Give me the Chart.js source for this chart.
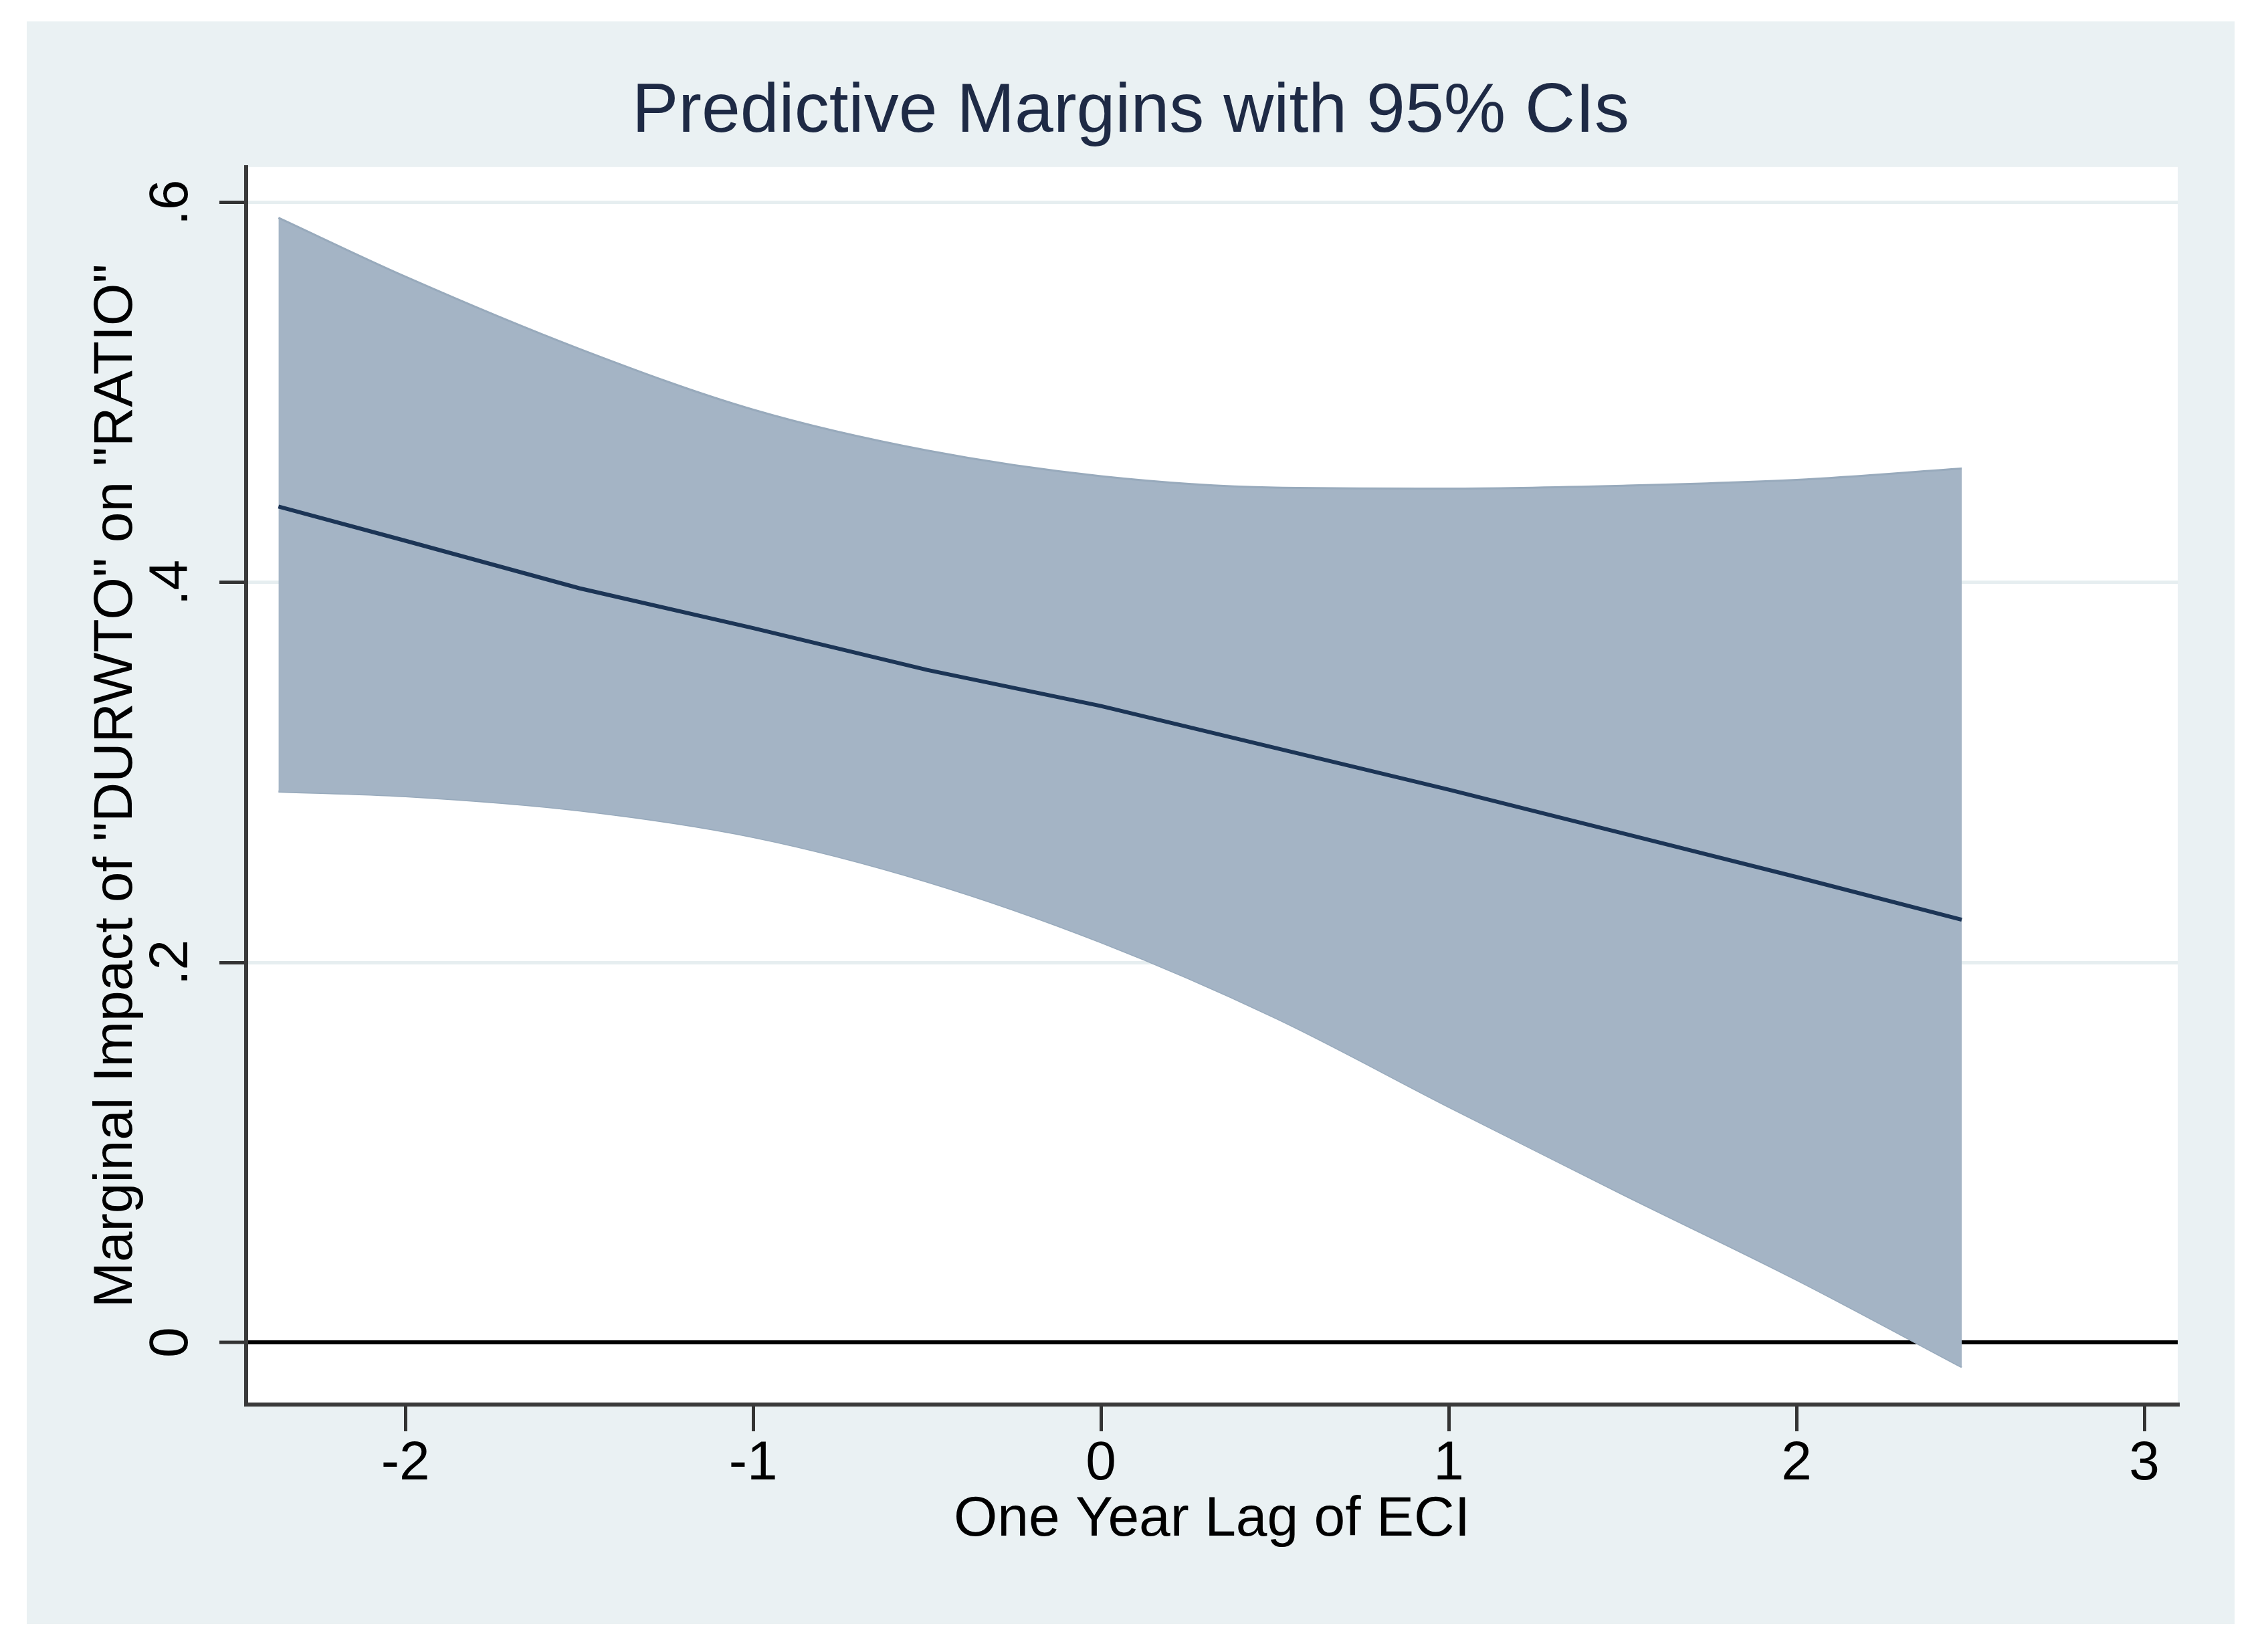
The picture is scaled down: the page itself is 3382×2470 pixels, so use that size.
<!DOCTYPE html>
<html>
<head>
<meta charset="utf-8">
<script src="https://cdn.jsdelivr.net/npm/chart.js@4.4.1/dist/chart.umd.min.js"></script>
<style>
  html, body { margin: 0; padding: 0; background: #ffffff; }
  #frame {
    position: absolute;
    left: 40px; top: 32px;
    width: 3301px; height: 2396px;
    background: #eaf1f3;
  }
</style>
</head>
<body>
<div id="frame"><canvas id="margins"></canvas></div>
<script>
// predictive margins
const eciLag = [-2.365, -2.0, -1.5, -1.0, -0.5, 0, 0.5, 1.0, 1.5, 2.0, 2.475];
const marginValue = [0.440, 0.422, 0.397, 0.376, 0.354, 0.335, 0.313, 0.291, 0.268, 0.245, 0.2225];
const upperCI = [0.592, 0.561, 0.523, 0.491, 0.4695, 0.456, 0.450, 0.4495, 0.451, 0.454, 0.460];
const lowerCI = [0.290, 0.2875, 0.280, 0.266, 0.2425, 0.2106, 0.171, 0.124, 0.078, 0.033, -0.013];

const xTicks = [-2, -1, 0, 1, 2, 3];
const yTicks = [0, 0.2, 0.4, 0.6];
const yTickLabels = ["0", ".2", ".4", ".6"];

const xRange = [-2.458, 3.096];
const yRange = [-0.0327, 0.6187];

const toPoints = ys => eciLag.map((x, i) => ({ x: x, y: ys[i] }));

Chart.defaults.font.family = "'Liberation Sans', Arial, sans-serif";
Chart.defaults.color = "#000000";

// white plot region
const plotRegion = {
  id: "plotRegion",
  beforeDraw(chart) {
    const { ctx, chartArea: a } = chart;
    ctx.save();
    ctx.fillStyle = "#ffffff";
    ctx.fillRect(a.left, a.top, a.right - a.left, a.bottom - a.top);
    ctx.restore();
  },
};

new Chart(document.getElementById("margins"), {
  type: "line",
  data: {
    datasets: [
      {
        label: "lower",
        data: toPoints(lowerCI),
        borderColor: "#98aabc",
        borderWidth: 3,
        pointRadius: 0,
        fill: false,
        cubicInterpolationMode: "monotone",
        order: 3,
      },
      {
        label: "upper",
        data: toPoints(upperCI),
        borderColor: "#98aabc",
        borderWidth: 3,
        backgroundColor: "#a4b4c5",
        pointRadius: 0,
        fill: "-1",
        cubicInterpolationMode: "monotone",
        order: 2,
      },
      {
        label: "margin",
        data: toPoints(marginValue),
        borderColor: "#1c3556",
        borderWidth: 6,
        pointRadius: 0,
        fill: false,
        tension: 0,
        order: 1,
      },
    ],
  },
  options: {
    responsive: true,
    maintainAspectRatio: false,
    animation: false,
    layout: { padding: { left: 85, right: 85, top: 0, bottom: 0 } },
    plugins: {
      legend: { display: false },
      tooltip: { enabled: false },
      title: {
        display: true,
        text: "Predictive Margins with 95% CIs",
        color: "#1e2a45",
        font: { size: 104, weight: "normal" },
        padding: { top: 74, bottom: 19 },
      },
    },
    scales: {
      x: {
        type: "linear",
        min: xRange[0],
        max: xRange[1],
        afterBuildTicks: scale => {
          scale.ticks = xTicks.map(v => ({ value: v }));
        },
        afterFit: scale => {
          scale.height = 328;
        },
        ticks: {
          font: { size: 82 },
          color: "#000000",
          padding: 0,
          maxRotation: 0,
          autoSkip: false,
        },
        grid: {
          drawOnChartArea: false,
          tickLength: 40,
          tickWidth: 5,
          lineWidth: 5,
          tickColor: "#333333",
        },
        border: { display: true, color: "#3a3a3a", width: 6 },
        title: {
          display: true,
          text: "One Year Lag of ECI",
          font: { size: 84 },
          color: "#000000",
          padding: { top: 0, bottom: 105 },
        },
      },
      y: {
        type: "linear",
        min: yRange[0],
        max: yRange[1],
        afterBuildTicks: scale => {
          scale.ticks = yTicks.map(v => ({ value: v }));
        },
        afterFit: scale => {
          scale.width = 243;
        },
        ticks: {
          font: { size: 82 },
          color: "#000000",
          minRotation: 90,
          crossAlign: "center",
          padding: 36,
          callback: value => yTickLabels[yTicks.indexOf(value)],
        },
        grid: {
          color: c => (c.tick && c.tick.value === 0 ? "#000000" : "#e6eef0"),
          lineWidth: c => (c.tick && c.tick.value === 0 ? 6 : 5),
          tickLength: 40,
          tickWidth: 5,
          tickColor: "#333333",
        },
        border: { display: true, color: "#3a3a3a", width: 6 },
        title: {
          display: true,
          text: 'Marginal Impact of "DURWTO" on "RATIO"',
          font: { size: 82 },
          color: "#000000",
          padding: { top: 0, bottom: 0 },
        },
      },
    },
  },
  plugins: [plotRegion],
});
</script>
</body>
</html>
